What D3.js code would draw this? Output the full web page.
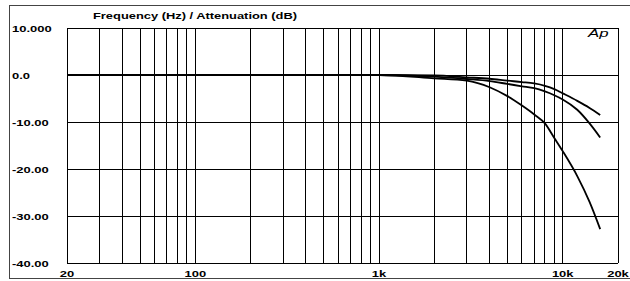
<!DOCTYPE html>
<html>
<head>
<meta charset="utf-8">
<script src="https://d3js.org/d3.v7.min.js"></script>
<style>
  body { margin: 0; background: #fff; }
  text { font-family: "Liberation Sans", Arial, sans-serif; fill: #000; }
  .lbl { font-weight: bold; font-size: 9.4px; }
  .grid { stroke: #000; stroke-width: 1px; shape-rendering: crispEdges; }
  .curve { fill: none; stroke: #000; stroke-width: 1.8px; }
</style>
</head>
<body>
<div id="chart"></div>
<script>
// data: frequency (Hz) and attenuation (dB) for three curves
var freqs    = [20, 1000, 2000, 3000, 4000, 5000, 6000, 7000, 8000, 9000, 10000, 12000, 14000, 16000];
var curveTop = [0, 0, -0.1, -0.5, -0.8, -1.2, -1.5, -1.8, -2.3, -3.0, -3.9, -5.5, -7.0, -8.5];
var curveMid = [0, 0, -0.35, -0.85, -1.3, -1.9, -2.4, -2.8, -3.5, -4.3, -5.2, -7.4, -10.3, -13.3];
var curveLow = [0, 0, -0.7, -1.2, -2.6, -4.5, -6.5, -8.4, -10.3, -13.4, -16.2, -21.5, -27.0, -32.8];

var yTicks = [10, 0, -10, -20, -30, -40];
var yTickLabels = ["10.000", "0.0", "-10.00", "-20.00", "-30.00", "-40.00"];
var xTicks = [20, 100, 1000, 10000, 20000];
var xTickLabels = ["20", "100", "1k", "10k", "20k"];

var title = "Frequency (Hz) / Attenuation (dB)";

// set the dimensions and margins of the graph
var margin = {top: 28, right: 12, bottom: 18, left: 67},
    width = 630 - margin.left - margin.right,
    height = 281 - margin.top - margin.bottom;

var root = d3.select("#chart")
  .append("svg")
    .attr("width", 630)
    .attr("height", 281);

// outer frame
root.append("rect")
  .attr("x", 9.5).attr("y", 5.5)
  .attr("width", 640).attr("height", 273)
  .attr("fill", "none")
  .attr("stroke", "#444")
  .attr("stroke-width", 1);

var svg = root.append("g")
    .attr("transform", "translate(" + margin.left + "," + margin.top + ")");

var x = d3.scaleLog()
  .domain([20, 20000])
  .range([0, width]);

var y = d3.scaleLinear()
  .domain([-40, 10])
  .range([height, 0]);

// stretched text helper (the original lettering is wide)
function wideText(sel, px, py, str, anchor, sx) {
  return sel.append("text")
    .attr("class", "lbl")
    .attr("transform", "translate(" + px + "," + py + ") scale(" + sx + ",1)")
    .style("text-anchor", anchor)
    .text(str);
}

// vertical grid lines (log ticks)
svg.selectAll("vgrid")
  .data(x.ticks())
  .enter()
  .append("line")
    .attr("class", "grid")
    .attr("x1", d => x(d))
    .attr("x2", d => x(d))
    .attr("y1", 0)
    .attr("y2", height);

// horizontal grid lines
svg.selectAll("hgrid")
  .data(yTicks)
  .enter()
  .append("line")
    .attr("class", "grid")
    .attr("x1", 0)
    .attr("x2", width)
    .attr("y1", d => y(d))
    .attr("y2", d => y(d));

// y labels
yTicks.forEach(function(t, i) {
  wideText(root, 12, margin.top + y(t) + 3.8, yTickLabels[i], "start", 1.38);
});

// x labels
xTicks.forEach(function(t, i) {
  wideText(root, margin.left + x(t), 276.8, xTickLabels[i], "middle", 1.38);
});

// title
wideText(root, 93, 18.8, title, "start", 1.37);

// "Ap" mark
root.append("text")
  .attr("transform", "translate(588," + (margin.top + 8.6) + ") scale(1.6,1)")
  .style("font-size", "10.5px")
  .style("font-style", "italic")
  .style("font-weight", "300")
  .text("Ap");

// the curves
var line = d3.line()
  .x(d => x(d[0]))
  .y(d => y(d[1]))
  .curve(d3.curveMonotoneX);

[curveTop, curveMid, curveLow].forEach(function(vals) {
  svg.append("path")
    .datum(freqs.map((f, i) => [f, vals[i]]))
    .attr("class", "curve")
    .attr("d", line);
});
</script>
</body>
</html>
